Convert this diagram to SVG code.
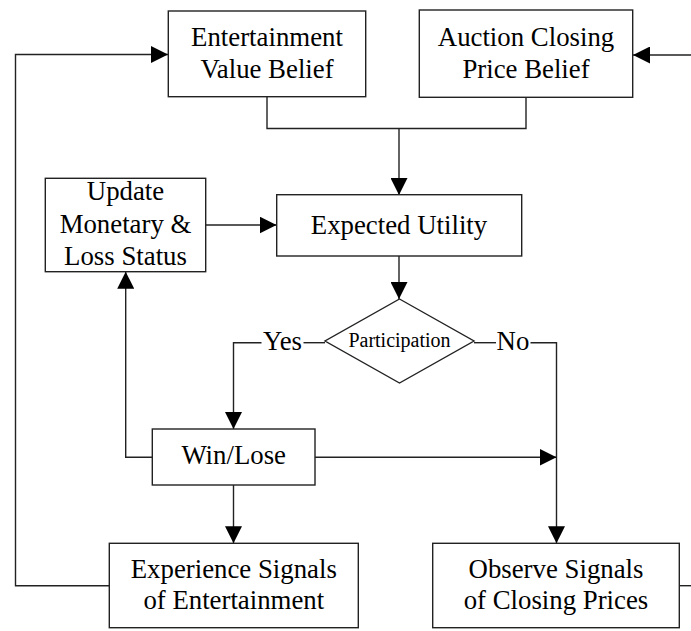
<svg xmlns="http://www.w3.org/2000/svg" width="691" height="631" viewBox="0 0 691 631">
<style>
.box{fill:#fff;stroke:#222;stroke-width:1.4}
.t{font-family:"Liberation Serif","Times New Roman",serif;font-size:26.8px;fill:#000;text-anchor:middle}
.s{font-size:20px}
.c{fill:none;stroke:#222;stroke-width:1.4}
</style>
<defs>
<marker id="ah" markerUnits="userSpaceOnUse" markerWidth="18" markerHeight="17" refX="17" refY="8.5" orient="auto">
<path d="M0,0 L17,8.5 L0,17 z" fill="#000"/>
</marker>
</defs>
<rect width="691" height="631" fill="#fff"/>
<g id="connectors">
<path class="c" d="M109,585.7 H15.5 V54.5 H168" marker-end="url(#ah)"/>
<path class="c" d="M679,585.7 H691"/>
<path class="c" d="M691,55 H633" marker-end="url(#ah)"/>
<path class="c" d="M267,97 V128.5 H526 V97"/>
<path class="c" d="M399,128.5 V195" marker-end="url(#ah)"/>
<path class="c" d="M206,225 H276.5" marker-end="url(#ah)"/>
<path class="c" d="M399,256 V299" marker-end="url(#ah)"/>
<path class="c" d="M325,342.7 H303.5"/>
<path class="c" d="M261.5,342.7 H233.5 V429" marker-end="url(#ah)"/>
<path class="c" d="M474,342.7 H496"/>
<path class="c" d="M530.5,342.7 H556.5 V543.3" marker-end="url(#ah)"/>
<path class="c" d="M315,457.3 H556.5" marker-end="url(#ah)"/>
<path class="c" d="M152.3,457.3 H125.7 V271.7" marker-end="url(#ah)"/>
<path class="c" d="M233.5,485 V543.3" marker-end="url(#ah)"/>
<text class="t" x="282.5" y="349.5">Yes</text>
<text class="t" x="513" y="349.5">No</text>
</g>
<g id="evb">
<rect class="box" x="168.3" y="11" width="197.4" height="85.7"/>
<text class="t" x="267" y="45.7">Entertainment</text>
<text class="t" x="267" y="77.7">Value Belief</text>
</g>
<g id="acpb">
<rect class="box" x="419.3" y="10" width="213.4" height="87.3"/>
<text class="t" x="526" y="45.7">Auction Closing</text>
<text class="t" x="526" y="78.3">Price Belief</text>
</g>
<g id="update">
<rect class="box" x="45.3" y="178.3" width="160.4" height="93.4"/>
<text class="t" x="125.5" y="199.5">Update</text>
<text class="t" x="125.5" y="232.5">Monetary &amp;</text>
<text class="t" x="125.5" y="265">Loss Status</text>
</g>
<g id="eu">
<rect class="box" x="276.7" y="194.7" width="245" height="61.3"/>
<text class="t" x="399" y="234">Expected Utility</text>
</g>
<g id="participation">
<polygon class="box" points="399.5,299 474,341 399.5,383 325,341"/>
<text class="t s" x="399.5" y="346.7">Participation</text>
</g>
<g id="winlose">
<rect class="box" x="152.3" y="429" width="162.7" height="56"/>
<text class="t" x="233.7" y="464">Win/Lose</text>
</g>
<g id="experience">
<rect class="box" x="109.3" y="543.3" width="249" height="84.4"/>
<text class="t" x="233.8" y="577.7">Experience Signals</text>
<text class="t" x="233.8" y="609">of Entertainment</text>
</g>
<g id="observe">
<rect class="box" x="432.7" y="543.3" width="246.6" height="84.4"/>
<text class="t" x="556" y="577.7">Observe Signals</text>
<text class="t" x="556" y="609">of Closing Prices</text>
</g>
</svg>
